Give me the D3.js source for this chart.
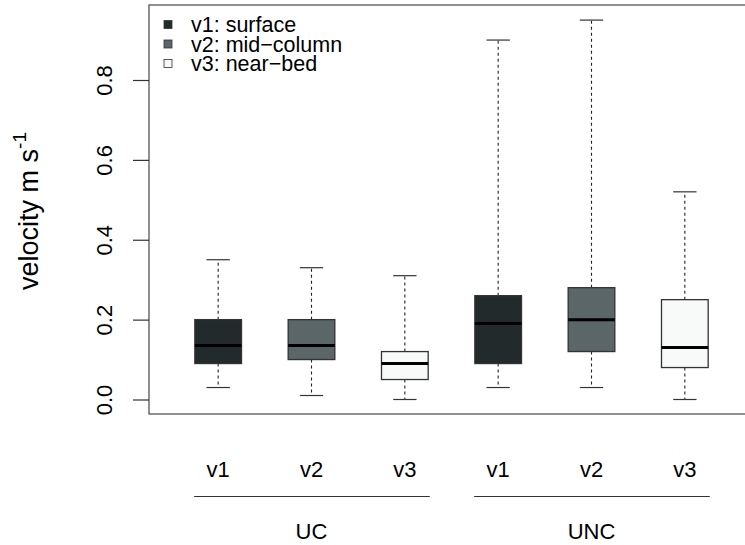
<!DOCTYPE html>
<html><head><meta charset="utf-8">
<script src="https://cdn.jsdelivr.net/npm/d3@7"></script>
<style>body{margin:0;background:#fff}svg{display:block}text{font-family:"Liberation Sans",Arial,sans-serif;fill:#000}</style>
</head><body><svg id="c" width="745" height="545"></svg>
<script>
const groups = ["UC", "UNC"];
const depths = ["v1", "v2", "v3"];
const legendLabels = ["v1: surface", "v2: mid\u2212column", "v3: near\u2212bed"];
const fills = ["#222a2b", "#5a6668", "#f8f9f9"];
// order: UC v1,v2,v3, UNC v1,v2,v3
const lowWhisker = [0.03, 0.01, 0.00, 0.03, 0.03, 0.00];
const q1Vals     = [0.09, 0.10, 0.05, 0.09, 0.12, 0.08];
const medians    = [0.135, 0.135, 0.09, 0.19, 0.20, 0.13];
const q3Vals     = [0.20, 0.20, 0.12, 0.26, 0.28, 0.25];
const highWhisker= [0.35, 0.33, 0.31, 0.90, 0.95, 0.52];
const yTicks = [0.0, 0.2, 0.4, 0.6, 0.8];

const svg = d3.select("#c");
const pLeft = 149, pRight = 746, pTop = 5, pBottom = 414;
const y = d3.scaleLinear().domain([0, 0.8]).range([399.5, 80]);
const keys = [];
groups.forEach(g => depths.forEach(d => keys.push(g + "." + d)));
const x = d3.scaleBand().domain(keys).range([171.5, 731.5]).paddingInner(0.5).paddingOuter(0.25);

// frame
svg.append("rect").attr("x", pLeft).attr("y", pTop).attr("width", pRight - pLeft).attr("height", pBottom - pTop)
  .attr("fill", "none").attr("stroke", "#555").attr("stroke-width", 1.3);

// y axis
const yAxis = d3.axisLeft(y).tickValues(yTicks).tickFormat(d3.format(".1f")).tickSize(16);
const ga = svg.append("g").attr("transform", `translate(${pLeft},0)`).call(yAxis);
ga.select(".domain").remove();
ga.selectAll(".tick line").attr("stroke", "#333").attr("stroke-width", 1.2);
ga.selectAll(".tick text").attr("font-size", 22).attr("fill", "#000")
  .attr("font-family", '"Liberation Sans",Arial,sans-serif')
  .attr("text-anchor", "middle").attr("x", 0).attr("y", 0).attr("dy", 0)
  .attr("transform", "translate(-37,0) rotate(-90)");

// y label
const yl = svg.append("text").attr("transform", "translate(38,211) rotate(-90)")
  .attr("text-anchor", "middle").attr("font-size", 27);
yl.append("tspan").text("velocity m s");
yl.append("tspan").attr("dy", -12).attr("font-size", 19).text("-1");

// boxes
const bw = x.bandwidth();
keys.forEach((k, i) => {
  const cx = x(k) + bw / 2;
  const g = svg.append("g");
  g.append("line").attr("x1", cx).attr("x2", cx).attr("y1", y(q3Vals[i])).attr("y2", y(highWhisker[i]))
    .attr("stroke", "#222").attr("stroke-dasharray", "3,3").attr("stroke-width", 1.1);
  g.append("line").attr("x1", cx).attr("x2", cx).attr("y1", y(q1Vals[i])).attr("y2", y(lowWhisker[i]))
    .attr("stroke", "#222").attr("stroke-dasharray", "3,3").attr("stroke-width", 1.1);
  [lowWhisker[i], highWhisker[i]].forEach(v => g.append("line").attr("x1", cx - bw / 4).attr("x2", cx + bw / 4)
    .attr("y1", y(v)).attr("y2", y(v)).attr("stroke", "#333").attr("stroke-width", 1.2));
  g.append("rect").attr("x", x(k)).attr("width", bw).attr("y", y(q3Vals[i])).attr("height", y(q1Vals[i]) - y(q3Vals[i]))
    .attr("fill", fills[i % 3]).attr("stroke", "#333").attr("stroke-width", 1.3);
  g.append("line").attr("x1", x(k)).attr("x2", x(k) + bw).attr("y1", y(medians[i])).attr("y2", y(medians[i]))
    .attr("stroke", "#000").attr("stroke-width", 3);
});

// x labels
keys.forEach((k, i) => {
  svg.append("text").attr("x", x(k) + bw / 2).attr("y", 477).attr("text-anchor", "middle")
    .attr("font-size", 22).text(depths[i % 3]);
});
groups.forEach((g) => {
  const k0 = x(g + ".v1") + bw / 2, k2 = x(g + ".v3") + bw / 2;
  svg.append("line").attr("x1", k0 - 24).attr("x2", k2 + 25).attr("y1", 496.5).attr("y2", 496.5)
    .attr("stroke", "#333").attr("stroke-width", 1);
  svg.append("text").attr("x", (k0 + k2) / 2).attr("y", 539).attr("text-anchor", "middle")
    .attr("font-size", 22).text(g);
});

// legend
legendLabels.forEach((t, i) => {
  const ly = 24.5 + i * 19.5;
  svg.append("rect").attr("x", 164).attr("y", ly - 4).attr("width", 8).attr("height", 8)
    .attr("fill", fills[i]).attr("stroke", "#333").attr("stroke-width", 0.8);
  svg.append("text").attr("x", 191).attr("y", ly + 7.5).attr("font-size", 21.5).text(t);
});
</script></body></html>
